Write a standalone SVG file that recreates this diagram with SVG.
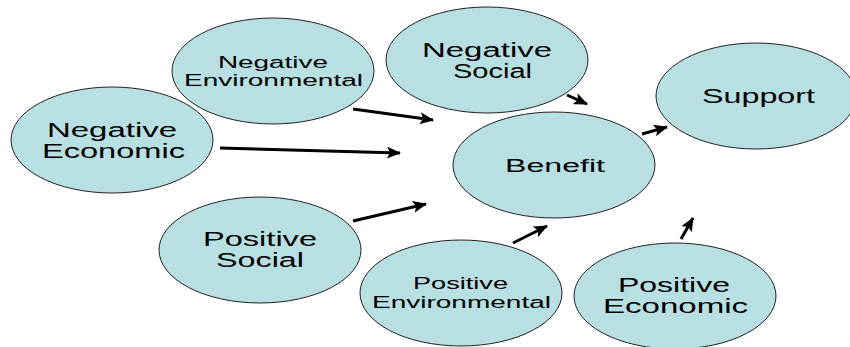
<svg xmlns="http://www.w3.org/2000/svg" width="850" height="347" viewBox="0 0 850 347">
<style>
  .node ellipse { fill: #b8dfe1; stroke: #222; stroke-width: 1; }
  .node text { font-family: "Liberation Sans", Arial, sans-serif; fill: #000; }
  .big { font-size: 20px; }
  .mid { font-size: 18px; }
  .small { font-size: 16px; }
  .conn line { stroke: #000; stroke-width: 3; marker-end: url(#ah); }
</style>
<defs>
  <marker id="ah" markerUnits="userSpaceOnUse" markerWidth="14" markerHeight="12" refX="13" refY="6" orient="auto">
    <path d="M0,0 L14,6 L0,12 L3,6 Z" fill="#000"/>
  </marker>
</defs>
<rect width="850" height="347" fill="#fff"/>
<g id="neg-env" class="node">
  <ellipse cx="273" cy="71" rx="101" ry="53"/>
  <text class="small" x="218" y="68" textLength="110" lengthAdjust="spacingAndGlyphs">Negative</text>
  <text class="small" x="184" y="86" textLength="179" lengthAdjust="spacingAndGlyphs">Environmental</text>
</g>
<g id="neg-econ" class="node">
  <ellipse cx="112" cy="140" rx="101" ry="53"/>
  <text class="big" x="47" y="137" textLength="130" lengthAdjust="spacingAndGlyphs">Negative</text>
  <text class="big" x="42" y="158" textLength="143" lengthAdjust="spacingAndGlyphs">Economic</text>
</g>
<g id="neg-soc" class="node">
  <ellipse cx="487" cy="60" rx="101" ry="53"/>
  <text class="big" x="422" y="57" textLength="130" lengthAdjust="spacingAndGlyphs">Negative</text>
  <text class="big" x="453" y="78" textLength="79" lengthAdjust="spacingAndGlyphs">Social</text>
</g>
<g id="support" class="node">
  <ellipse cx="756" cy="96" rx="100" ry="53"/>
  <text class="big" x="702" y="103" textLength="113" lengthAdjust="spacingAndGlyphs">Support</text>
</g>
<g id="benefit" class="node">
  <ellipse cx="554" cy="165" rx="101" ry="53"/>
  <text class="mid" x="505" y="172" textLength="100" lengthAdjust="spacingAndGlyphs">Benefit</text>
</g>
<g id="pos-soc" class="node">
  <ellipse cx="260" cy="250" rx="101" ry="53"/>
  <text class="big" x="203" y="246" textLength="114" lengthAdjust="spacingAndGlyphs">Positive</text>
  <text class="big" x="216" y="267" textLength="88" lengthAdjust="spacingAndGlyphs">Social</text>
</g>
<g id="pos-env" class="node">
  <ellipse cx="461" cy="293" rx="101" ry="53"/>
  <text class="small" x="413" y="289" textLength="95" lengthAdjust="spacingAndGlyphs">Positive</text>
  <text class="small" x="372" y="308" textLength="179" lengthAdjust="spacingAndGlyphs">Environmental</text>
</g>
<g id="pos-econ" class="node">
  <ellipse cx="675" cy="296" rx="101" ry="53"/>
  <text class="big" x="618" y="292" textLength="112" lengthAdjust="spacingAndGlyphs">Positive</text>
  <text class="big" x="603" y="313" textLength="145" lengthAdjust="spacingAndGlyphs">Economic</text>
</g>
<g id="connectors" class="conn">
  <line x1="353" y1="109" x2="433" y2="120"/>
  <line x1="220" y1="148" x2="400" y2="153"/>
  <line x1="353" y1="221" x2="426" y2="204"/>
  <line x1="567" y1="95" x2="587" y2="104"/>
  <line x1="642" y1="134" x2="667" y2="127"/>
  <line x1="513" y1="243" x2="547" y2="226"/>
  <line x1="681" y1="239" x2="693" y2="218"/>
</g>
</svg>
